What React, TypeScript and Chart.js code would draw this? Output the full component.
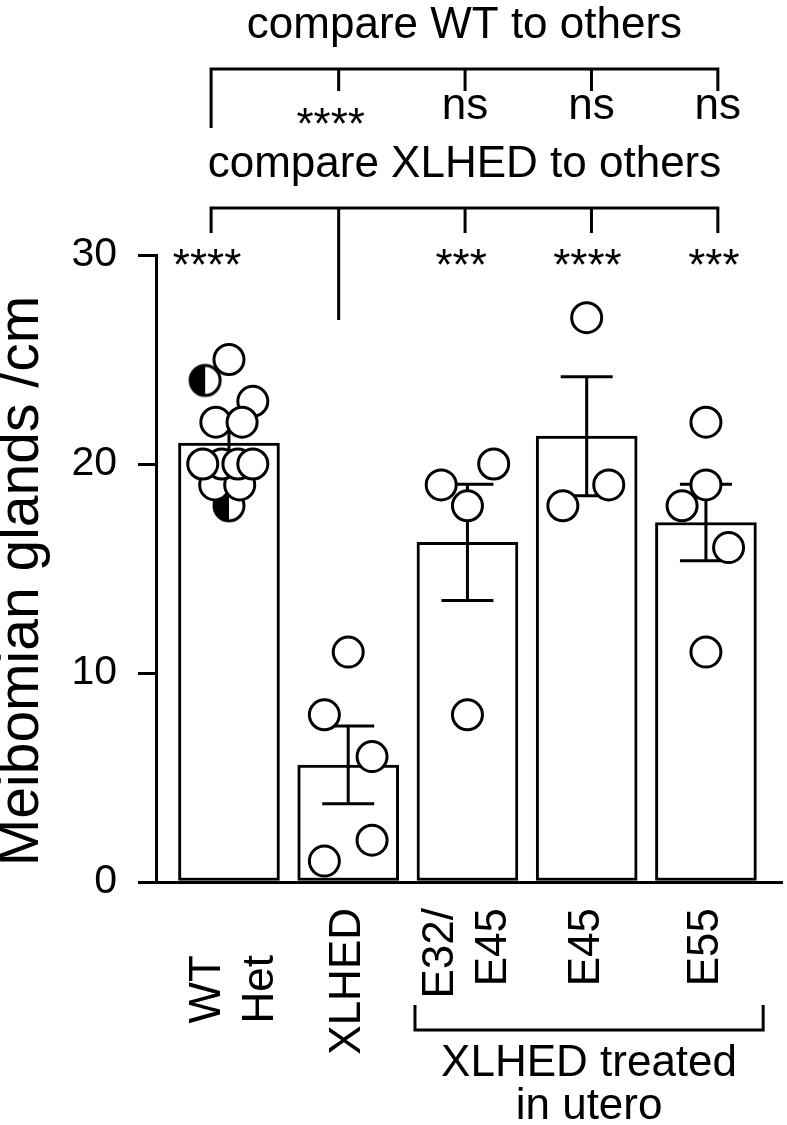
import React, { useEffect, useRef } from 'react';
import { Chart, registerables } from 'chart.js';

Chart.register(...registerables);

// ---------- data ----------
const categories: string[][] = [['WT', 'Het'], ['XLHED'], ['E32/', 'E45'], ['E45'], ['E55']];
const groupIndex = [0, 1, 2, 3, 4];
const barMeans = [21.0, 5.6, 16.25, 21.33, 17.2];
const barSEM = [0.63, 1.86, 2.78, 2.85, 1.83];

const wtValues = [19, 19, 20, 20, 20, 20, 22, 23, 22, 25];
const wtJitter = [-0.12, 0.09, -0.06, 0.075, -0.22, 0.2, -0.11, 0.2, 0.11, 0];
const hetValues = [24, 18];
const hetJitter = [-0.2, 0];
const xlhedValues = [11, 8, 6, 2, 1];
const xlhedJitter = [0, -0.2, 0.2, 0.2, -0.2];
const e32e45Values = [19, 20, 18, 8];
const e32e45Jitter = [-0.22, 0.22, 0, 0];
const e45Values = [27, 18, 19];
const e45Jitter = [0, -0.2, 0.185];
const e55Values = [22, 19, 18, 16, 11];
const e55Jitter = [0, 0, -0.2, 0.19, 0];

const yTickStep = 10;
const yMin = 0;
const yMax = 30;
const yTitle = 'Meibomian glands /cm';

const wtTitle = 'compare WT to others';
const wtComparisons = ['', '****', 'ns', 'ns', 'ns'];
const xlhedTitle = 'compare XLHED to others';
const xlhedComparisons = ['****', '', '***', '****', '***'];
const bracketPositions = [-0.15, 0.92, 1.98, 3.04, 4.1];
const treatedRange = [1.56, 4.48];
const treatedLabel = ['XLHED treated', 'in utero'];

const FONT = '"Liberation Sans", Arial, Helvetica, sans-serif';

function toPoints(values: number[], jitter: number[], g: number) {
  return values.map((v, i) => ({ x: g + jitter[i], y: v }));
}

function makeHalfMarker(): HTMLCanvasElement {
  const c = document.createElement('canvas');
  c.width = 36;
  c.height = 36;
  const g = c.getContext('2d')!;
  g.beginPath();
  g.arc(18, 18, 15, 0, Math.PI * 2);
  g.fillStyle = '#fff';
  g.fill();
  g.beginPath();
  g.moveTo(18, 3);
  g.arc(18, 18, 15, -Math.PI / 2, Math.PI / 2, true);
  g.closePath();
  g.fillStyle = '#000';
  g.fill();
  g.beginPath();
  g.arc(18, 18, 15, 0, Math.PI * 2);
  g.lineWidth = 3;
  g.strokeStyle = '#000';
  g.stroke();
  return c;
}

const errorBarPlugin = {
  id: 'errorBars',
  afterDatasetDraw(chart: any, args: any) {
    if (args.index !== 0) return;
    const { ctx } = chart;
    const x = chart.scales.x;
    const y = chart.scales.y;
    ctx.save();
    ctx.strokeStyle = '#000';
    ctx.lineWidth = 3;
    barMeans.forEach((m, i) => {
      const px = x.getPixelForValue(groupIndex[i]);
      const top = y.getPixelForValue(m + barSEM[i]);
      const bot = y.getPixelForValue(m - barSEM[i]);
      const cap = 26;
      ctx.beginPath();
      ctx.moveTo(px, top);
      ctx.lineTo(px, bot);
      ctx.moveTo(px - cap, top);
      ctx.lineTo(px + cap, top);
      ctx.moveTo(px - cap, bot);
      ctx.lineTo(px + cap, bot);
      ctx.stroke();
    });
    ctx.restore();
  },
};

const annotationPlugin = {
  id: 'annotations',
  afterDraw(chart: any) {
    const { ctx, chartArea } = chart;
    const x = chart.scales.x;
    ctx.save();
    ctx.fillStyle = '#000';
    ctx.strokeStyle = '#000';
    ctx.lineWidth = 3;
    ctx.lineJoin = 'miter';
    const bx = bracketPositions.map((v) => x.getPixelForValue(v));
    const cx = (bx[0] + bx[4]) / 2;
    const line = (pts: number[][]) => {
      ctx.beginPath();
      ctx.moveTo(pts[0][0], pts[0][1]);
      for (let k = 1; k < pts.length; k++) ctx.lineTo(pts[k][0], pts[k][1]);
      ctx.stroke();
    };

    // y axis title
    ctx.save();
    ctx.font = `57px ${FONT}`;
    ctx.translate(22, 581);
    ctx.rotate(-Math.PI / 2);
    ctx.textAlign = 'center';
    ctx.textBaseline = 'middle';
    ctx.fillText(yTitle, 0, 0);
    ctx.restore();

    ctx.font = `44px ${FONT}`;
    ctx.textAlign = 'center';
    ctx.textBaseline = 'alphabetic';

    // WT comparisons
    ctx.fillText(wtTitle, cx, 38);
    line([[bx[0], 128], [bx[0], 69], [bx[4], 69], [bx[4], 91]]);
    for (let i = 1; i < 4; i++) line([[bx[i], 69], [bx[i], 91]]);
    wtComparisons.forEach((t, i) => {
      if (!t) return;
      if (t === 'ns') ctx.fillText(t, bx[i], 119);
      else ctx.fillText(t, bx[i] - 8, 139);
    });

    // XLHED comparisons
    ctx.fillText(xlhedTitle, cx, 177);
    line([[bx[0], 233], [bx[0], 208], [bx[4], 208], [bx[4], 233]]);
    line([[bx[1], 208], [bx[1], 320]]);
    for (let i = 2; i < 4; i++) line([[bx[i], 208], [bx[i], 233]]);
    xlhedComparisons.forEach((t, i) => {
      if (!t) return;
      ctx.fillText(t, bx[i] - 4, 280);
    });

    // x category labels (rotated)
    const labelGap = [73, 26, 26, 26, 26];
    const labelShift = [5, 0, 0, 0, 0];
    categories.forEach((lines, i) => {
      const px = x.getPixelForValue(groupIndex[i]) + labelShift[i];
      const n = lines.length;
      lines.forEach((t, j) => {
        const lx = px + (j - (n - 1) / 2) * 53;
        ctx.save();
        ctx.translate(lx, chartArea.bottom + labelGap[i]);
        ctx.rotate(-Math.PI / 2);
        ctx.textAlign = 'right';
        ctx.textBaseline = 'middle';
        ctx.fillText(t, 0, 0);
        ctx.restore();
      });
    });

    // treated bracket
    const tl = x.getPixelForValue(treatedRange[0]);
    const tr = x.getPixelForValue(treatedRange[1]);
    line([[tl, 1005], [tl, 1030], [tr, 1030], [tr, 1005]]);
    ctx.textAlign = 'center';
    ctx.textBaseline = 'alphabetic';
    ctx.fillText(treatedLabel[0], (tl + tr) / 2, 1076);
    ctx.fillText(treatedLabel[1], (tl + tr) / 2, 1119);
    ctx.restore();
  },
};

export default function App() {
  const ref = useRef<HTMLCanvasElement>(null);
  useEffect(() => {
    if (!ref.current) return;
    const half = makeHalfMarker();
    const scatterBase = {
      type: 'scatter' as const,
      pointRadius: 15,
      pointHoverRadius: 15,
      pointBorderWidth: 3,
      pointBackgroundColor: '#fff',
      pointBorderColor: '#000',
      showLine: false,
      clip: false,
      order: 1,
    };
    const chart = new Chart(ref.current, {
      type: 'bar',
      data: {
        datasets: [
          {
            type: 'bar',
            data: barMeans.map((m, i) => ({ x: groupIndex[i], y: m })),
            backgroundColor: '#fff',
            borderColor: '#000',
            borderWidth: 3,
            borderSkipped: false,
            barThickness: 101,
            order: 3,
          } as any,
          { ...scatterBase, data: toPoints(wtValues, wtJitter, 0) },
          { ...scatterBase, data: toPoints(hetValues, hetJitter, 0), pointStyle: half },
          { ...scatterBase, data: toPoints(xlhedValues, xlhedJitter, 1) },
          { ...scatterBase, data: toPoints(e32e45Values, e32e45Jitter, 2) },
          { ...scatterBase, data: toPoints(e45Values, e45Jitter, 3) },
          { ...scatterBase, data: toPoints(e55Values, e55Jitter, 4) },
        ] as any,
      },
      options: {
        responsive: false,
        animation: false,
        devicePixelRatio: 1,
        layout: { autoPadding: false, padding: { top: 255, right: 5, left: 0, bottom: 0 } },
        plugins: { legend: { display: false }, tooltip: { enabled: false } },
        scales: {
          x: {
            type: 'linear',
            min: -0.612,
            max: 4.638,
            offset: false,
            bounds: 'data',
            grid: { display: false, offset: false },
            ticks: { display: false },
            border: { display: true, color: '#000', width: 3 },
            afterFit: (s: any) => {
              s.height = 243;
            },
          },
          y: {
            type: 'linear',
            min: yMin,
            max: yMax,
            ticks: {
              stepSize: yTickStep,
              color: '#000',
              font: { family: FONT, size: 41 },
              padding: 21,
            },
            grid: {
              drawOnChartArea: false,
              drawTicks: true,
              tickLength: 18,
              tickWidth: 3,
              tickColor: '#000',
              color: '#000',
              lineWidth: 3,
            },
            border: { display: true, color: '#000', width: 3 },
            title: { display: false },
            afterFit: (s: any) => {
              s.width = 156;
            },
          },
        },
      } as any,
      plugins: [errorBarPlugin, annotationPlugin],
    });
    return () => chart.destroy();
  }, []);
  return (
    <div style={{ position: 'fixed', left: 0, top: 0, width: 787, height: 1125, background: '#fff' }}>
      <canvas ref={ref} width={787} height={1125} style={{ display: 'block' }} />
    </div>
  );
}
